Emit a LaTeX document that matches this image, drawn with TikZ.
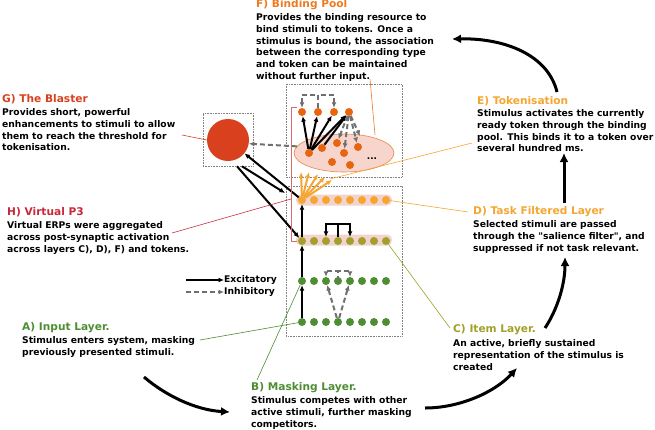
\documentclass[tikz,border=0pt]{standalone}
\usepackage{fontspec}
\setmainfont{DejaVu Sans}[Ligatures=TeXOff]
\usetikzlibrary{arrows.meta,shapes.geometric}

\definecolor{forange}{HTML}{EE7A22}
\definecolor{pooldot}{HTML}{E8650F}
\definecolor{poolfill}{HTML}{F7D5CC}
\definecolor{poolline}{HTML}{E8874A}
\definecolor{gred}{HTML}{D9411E}
\definecolor{hred}{HTML}{C8283A}
\definecolor{hline}{HTML}{D86A6A}
\definecolor{eorange}{HTML}{F5A530}
\definecolor{colive}{HTML}{A0A02A}
\definecolor{bgreen}{HTML}{4E8E32}
\definecolor{band}{HTML}{F3D3D0}
\definecolor{inhgray}{HTML}{6F6F6F}

\tikzset{
  unit/.style={circle, fill=#1, inner sep=0pt, minimum size=8pt},
  exc/.style={line width=2pt, -{Latex[length=5.5pt,width=5pt]}},
  inh/.style={line width=2pt, inhgray, dash pattern=on 5pt off 3pt, -{Latex[length=5.5pt,width=5pt]}},
  fan/.style={line width=2pt, eorange, -{Latex[length=5.5pt,width=5pt]}},
  bigarrow/.style={line width=3pt, -{Latex[length=9pt,width=9pt]}},
  callout/.style={line width=0.6pt, #1},
  dotbox/.style={draw=gray, densely dotted, line width=0.6pt},
  ttl/.style={anchor=west, inner sep=0pt, font=\fontsize{10.6}{12}\selectfont\bfseries, text=#1},
  body/.style={anchor=north west, inner sep=0pt, align=left, font=\fontsize{9.2}{11.7}\selectfont\bfseries},
}

\begin{document}
\begin{tikzpicture}[x=1pt, y=-1pt]
\useasboundingbox (0,0) rectangle (655,429);

% boxes and bands
\draw[dotbox] (286,84) rectangle (402,177);
\draw[dotbox] (286,186) rectangle (402,336);
\node[dotbox, minimum width=50pt, minimum height=53pt] (gbox) at (228,139.5) {};
\fill[band, rounded corners=5pt] (296,194.5) rectangle (392,205.5);
\fill[band, rounded corners=5pt] (296,234.5) rectangle (392,245.5);
\node[ellipse, draw=poolline, fill=poolfill, line width=0.6pt, minimum width=100pt, minimum height=38pt] (pool) at (344,153) {};

% the blaster
\node[circle, fill=gred, minimum size=42pt, inner sep=0pt] (blast) at (228,140) {};

% layers
\foreach \i in {1,...,8} {
  \node[unit=bgreen] (a\i) at (290+12*\i,322) {};
  \node[unit=bgreen] (b\i) at (290+12*\i,281) {};
  \node[unit=colive] (c\i) at (290+12*\i,241) {};
  \node[unit=eorange] (d\i) at (290+12*\i,200) {};
}

% binding pool
\node[unit=pooldot] (p1) at (302,112) {};
\node[unit=pooldot] (p2) at (318,112) {};
\node[unit=pooldot] (p3) at (334,112) {};
\node[unit=pooldot] (p4) at (349,112) {};
\node[unit=pooldot] (q1) at (309,153) {};
\node[unit=pooldot] (q2) at (322,148) {};
\node[unit=pooldot] (q3) at (337,143) {};
\node[unit=pooldot] (q4) at (344,153) {};
\node[unit=pooldot] (q5) at (358,147) {};
\node[unit=pooldot] (q6) at (332,162) {};
\node[unit=pooldot] (q7) at (350,165) {};
\node[font=\bfseries\small] (more) at (372,159) {...};

% feed-forward
\draw[exc] (a1) -- (b1);
\draw[exc] (b1) -- (c1);
\draw[exc] (c1) -- (d1);
\draw[exc] (c4.north) -- ++(0,-13) -| (c3.north);
\draw[exc] (c4.north) -- ++(0,-13) -| (c5.north);
\draw[inh] ([yshift=-4pt]b4.north) -- ++(0,-10) -| (b3.north);
\draw[inh] ([yshift=-4pt]b4.north) -- ++(0,-10) -| (b5.north);
\draw[inh] (a4) -- (b3);
\draw[inh] (a4) -- (b5);

% tokenisation fan
\coordinate (t1) at (301,172);
\coordinate (t2) at (309,172);
\coordinate (t3) at (318,174);
\coordinate (t4) at (325,177);
\coordinate (t5) at (332,180);
\foreach \t in {t1,t2,t3,t4,t5}
  \draw[fan] (d1) -- (\t);

% pool connections
\draw[exc] (q1) -- (p1);
\draw[exc] (q1) -- (p2);
\draw[exc] (q1) -- (p3);
\draw[exc] (q1) -- (p4);
\draw[exc] (q2) -- (p4);
\draw[inh] (p2.north) -- ++(0,-13) -| (p1.north);
\draw[inh] (p2.north) -- ++(0,-13) -| (p3.north);
\coordinate (r1) at (360,136);
\draw[inh] (p4) -- (q3);
\draw[inh] (p4) -- (q4);
\draw[inh] (p4) -- (q5);
\draw[inh] (p4) -- (r1);
\draw[inh] (pool.172) -- (blast.-10);

% blaster links
\coordinate (gd) at (285,193);
\draw[exc] (d1) -- (blast);
\draw[exc] ([xshift=14pt]gbox.south) -- (gd);
\draw[exc] ([xshift=9pt]gbox.south) -- (c1);

% virtual P3 bracket
\draw[hline, line width=0.8pt] (297,107) -- (291,107) -- (291,241) -- (297,241);

% texts
\node[ttl=forange] (ftitle) at (256,5) {F) Binding Pool};
\node[body] (ftext) at (256,13.5) {Provides the binding resource to\\bind stimuli to tokens. Once a\\stimulus is bound, the association\\between the corresponding type\\and token can be maintained\\without further input.};
\node[ttl=gred] (gtitle) at (2,99) {G) The Blaster};
\node[body] (gtext) at (2,108.5) {Provides short, powerful\\enhancements to stimuli to allow\\them to reach the threshold for\\tokenisation.};
\node[ttl=hred] (htitle) at (7,212) {H) Virtual P3};
\node[body] (htext) at (7,221.5) {Virtual ERPs were aggregated\\across post-synaptic activation\\across layers C), D), F) and tokens.};
\node[ttl=eorange] (etitle) at (477,101) {E) Tokenisation};
\node[body] (etext) at (477,109.5) {Stimulus activates the currently\\ready token through the binding\\pool. This binds it to a token over\\several hundred ms.};
\node[ttl=eorange] (dtitle) at (473,212) {D) Task Filtered Layer};
\node[body] (dtext) at (473,220.5) {Selected stimuli are passed\\through the "salience filter", and\\suppressed if not task relevant.};
\node[ttl=colive] (ctitle) at (453,330) {C) Item Layer.};
\node[body] (ctext) at (453,339.5) {An active, briefly sustained\\representation of the stimulus is\\created};
\node[ttl=bgreen] (btitle) at (251,388) {B) Masking Layer.};
\node[body] (btext) at (251,396.5) {Stimulus competes with other\\active stimuli, further masking\\competitors.};
\node[ttl=bgreen] (atitle) at (22,328) {A) Input Layer.};
\node[body] (atext) at (22,336.5) {Stimulus enters system, masking\\previously presented stimuli.};

% legend
\node[anchor=west, inner sep=0pt, font=\fontsize{9.2}{10}\selectfont\bfseries] (lexc) at (224,280) {Excitatory};
\node[anchor=west, inner sep=0pt, font=\fontsize{9.2}{10}\selectfont\bfseries] (linh) at (224,292) {Inhibitory};
\coordinate (lx) at (186,280);
\coordinate (li) at (186,292);
\draw[exc] (lx) -- (lexc.west);
\draw[inh] (li) -- (linh.west);

% callouts
\coordinate (fc) at (370,79);
\coordinate (fe) at (375,135);
\draw[callout=forange] (fc) -- (fe);
\coordinate (gc) at (182,135);
\draw[callout=gred] (gc) -- (blast.west);
\coordinate (hc) at (172,233);
\coordinate (he) at (291,199);
\draw[callout=hred] (hc) -- (he);
\coordinate (ec) at (472,143);
\coordinate (ee) at (330,179);
\draw[callout=eorange] (ec) -- (ee);
\coordinate (dc) at (468,212);
\draw[callout=eorange] (d8) -- (dc);
\coordinate (cc) at (450,328);
\draw[callout=colive] (c8) -- (cc);
\coordinate (bc) at (257,380);
\draw[callout=bgreen] (b1) -- (bc);
\coordinate (ac) at (200,340);
\draw[callout=bgreen] (a1) -- (ac);

% cycle arrows
\coordinate (k1) at (144,377);
\coordinate (k2) at (230,412);
\coordinate (k3) at (425,408);
\coordinate (k4) at (517,368);
\coordinate (k5) at (545,328);
\coordinate (k6) at (565,257);
\coordinate (k7) at (564,203);
\coordinate (k8) at (564,153);
\coordinate (k9) at (557,92);
\coordinate (k10) at (452,39);
\draw[bigarrow] (k1) .. controls (165,395) and (195,410) .. (k2);
\draw[bigarrow] (k3) .. controls (460,408) and (495,392) .. (k4);
\draw[bigarrow] (k5) .. controls (557,310) and (565,285) .. (k6);
\draw[bigarrow] (k7) -- (k8);
\draw[bigarrow] (k9) .. controls (548,55) and (505,38) .. (k10);
\end{tikzpicture}
\end{document}
